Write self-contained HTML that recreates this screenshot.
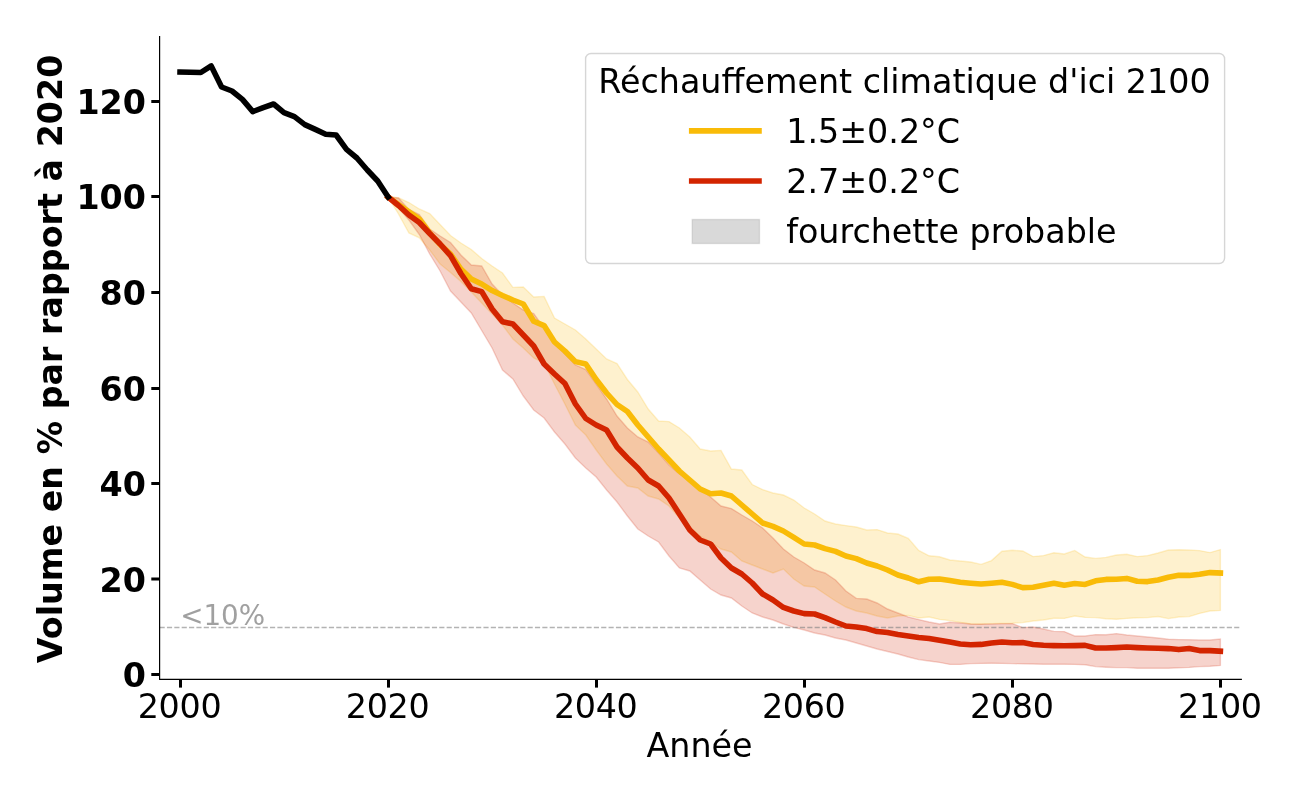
<!DOCTYPE html>
<html lang="fr"><head><meta charset="utf-8"><title>Volume en % par rapport à 2020</title>
<style>html,body{margin:0;padding:0;background:#fff}body{width:1300px;height:800px;overflow:hidden}svg{display:block}text{font-family:"DejaVu Sans","Liberation Sans",sans-serif;}</style></head><body>
<svg width="1300" height="800" viewBox="0 0 1300 800">
<rect width="1300" height="800" fill="#fff"/>
<polygon points="388.1,197.0 398.5,197.8 408.9,202.5 419.3,209.0 429.7,213.5 440.1,224.5 450.5,235.5 460.9,243.0 471.3,249.5 481.7,258.5 492.1,266.0 502.5,273.0 512.9,287.4 523.3,287.0 533.7,297.0 544.1,296.4 554.5,318.0 564.9,324.0 575.4,330.0 585.8,339.0 596.2,349.0 606.6,359.0 617.0,363.6 627.4,379.5 637.8,392.0 648.2,409.0 658.6,421.0 669.0,421.6 679.4,428.0 689.8,437.0 700.2,449.0 710.6,451.0 721.0,450.4 731.4,469.0 741.8,470.0 752.2,484.5 762.6,489.6 773.0,493.0 783.4,495.0 793.8,500.0 804.2,508.0 814.6,514.0 825.0,521.0 835.5,524.0 845.9,525.6 856.3,527.0 866.7,530.0 877.1,529.6 887.5,533.0 897.9,534.0 908.3,538.4 918.7,550.4 929.1,555.8 939.5,556.8 949.9,560.0 960.3,561.0 970.7,562.0 981.1,564.4 991.5,560.6 1001.9,551.2 1012.3,550.2 1022.7,551.0 1033.1,556.6 1043.5,555.6 1053.9,552.8 1064.3,554.0 1074.7,550.4 1085.1,557.0 1095.6,558.4 1106.0,557.4 1116.4,555.0 1126.8,554.2 1137.2,556.6 1147.6,555.6 1158.0,553.0 1168.4,550.0 1178.8,549.8 1189.2,550.0 1199.6,550.6 1210.0,552.6 1220.4,549.6 1220.4,610.4 1210.0,611.0 1199.6,613.4 1189.2,616.6 1178.8,617.0 1168.4,618.6 1158.0,616.5 1147.6,617.6 1137.2,617.8 1126.8,618.4 1116.4,619.2 1106.0,618.8 1095.6,617.6 1085.1,617.4 1074.7,616.0 1064.3,618.4 1053.9,618.2 1043.5,620.0 1033.1,621.0 1022.7,622.6 1012.3,623.2 1001.9,623.4 991.5,623.6 981.1,624.2 970.7,624.0 960.3,622.4 949.9,620.6 939.5,619.4 929.1,617.0 918.7,618.0 908.3,615.4 897.9,616.0 887.5,618.0 877.1,616.0 866.7,613.0 856.3,611.0 845.9,607.0 835.5,601.0 825.0,594.0 814.6,587.0 804.2,586.0 793.8,579.0 783.4,569.0 773.0,573.0 762.6,569.0 752.2,565.0 741.8,561.0 731.4,552.0 721.0,549.0 710.6,542.0 700.2,536.0 689.8,528.0 679.4,518.0 669.0,506.0 658.6,499.0 648.2,496.0 637.8,488.0 627.4,486.0 617.0,476.0 606.6,464.0 596.2,450.0 585.8,435.0 575.4,425.0 564.9,404.0 554.5,384.0 544.1,363.0 533.7,358.0 523.3,348.0 512.9,339.0 502.5,325.0 492.1,314.0 481.7,303.0 471.3,292.0 460.9,281.5 450.5,272.5 440.1,264.0 429.7,250.0 419.3,237.8 408.9,233.0 398.5,214.0 388.1,197.0" fill="#f9bb08" fill-opacity="0.2" stroke="#f9bb08" stroke-opacity="0.2" stroke-width="1.39" stroke-linejoin="miter"/>
<polygon points="388.1,197.0 398.5,198.0 408.9,209.5 419.3,214.5 429.7,229.0 440.1,236.0 450.5,242.5 460.9,255.0 471.3,265.0 481.7,266.0 492.1,284.0 502.5,295.0 512.9,303.0 523.3,310.0 533.7,313.6 544.1,328.0 554.5,344.0 564.9,354.0 575.4,365.0 585.8,369.5 596.2,384.0 606.6,399.0 617.0,416.0 627.4,428.0 637.8,437.0 648.2,442.0 658.6,453.0 669.0,465.0 679.4,474.0 689.8,480.0 700.2,489.0 710.6,497.0 721.0,506.0 731.4,508.6 741.8,515.0 752.2,521.0 762.6,528.0 773.0,538.0 783.4,549.0 793.8,557.0 804.2,563.0 814.6,570.0 825.0,573.0 835.5,580.0 845.9,591.0 856.3,598.4 866.7,599.0 877.1,603.0 887.5,609.0 897.9,613.0 908.3,617.0 918.7,619.6 929.1,622.0 939.5,624.0 949.9,622.2 960.3,623.0 970.7,624.0 981.1,624.2 991.5,624.0 1001.9,623.8 1012.3,623.6 1022.7,627.6 1033.1,627.0 1043.5,629.0 1053.9,631.4 1064.3,631.6 1074.7,636.0 1085.1,636.0 1095.6,634.6 1106.0,634.8 1116.4,633.6 1126.8,635.0 1137.2,636.0 1147.6,637.0 1158.0,638.0 1168.4,639.2 1178.8,639.6 1189.2,639.8 1199.6,640.0 1210.0,640.0 1220.4,639.0 1220.4,665.4 1210.0,666.2 1199.6,666.6 1189.2,667.4 1178.8,667.8 1168.4,668.2 1158.0,668.2 1147.6,668.2 1137.2,668.2 1126.8,667.6 1116.4,667.6 1106.0,667.2 1095.6,666.6 1085.1,664.8 1074.7,664.4 1064.3,664.2 1053.9,664.2 1043.5,664.2 1033.1,664.0 1022.7,663.8 1012.3,663.6 1001.9,663.4 991.5,663.2 981.1,663.4 970.7,663.6 960.3,664.4 949.9,664.4 939.5,662.4 929.1,661.0 918.7,659.6 908.3,657.0 897.9,654.0 887.5,651.5 877.1,649.0 866.7,646.0 856.3,643.0 845.9,640.0 835.5,638.0 825.0,635.0 814.6,633.0 804.2,630.0 793.8,627.4 783.4,624.0 773.0,620.0 762.6,617.0 752.2,613.0 741.8,606.0 731.4,598.0 721.0,595.0 710.6,589.0 700.2,580.0 689.8,571.0 679.4,568.0 669.0,556.0 658.6,542.0 648.2,536.0 637.8,529.0 627.4,516.0 617.0,502.0 606.6,490.0 596.2,477.0 585.8,468.0 575.4,458.0 564.9,444.0 554.5,432.0 544.1,418.0 533.7,410.0 523.3,396.0 512.9,379.0 502.5,370.0 492.1,348.0 481.7,330.5 471.3,313.0 460.9,302.0 450.5,291.0 440.1,271.0 429.7,254.0 419.3,234.5 408.9,220.0 398.5,208.0 388.1,197.0" fill="#d32400" fill-opacity="0.2" stroke="#d32400" stroke-opacity="0.2" stroke-width="1.39" stroke-linejoin="miter"/>
<line x1="159.6" x2="1239.4" y1="627.5" y2="627.5" stroke="#808080" stroke-opacity="0.6" stroke-width="1.5" stroke-dasharray="5.14 2.22"/>
<text x="180.2" y="625" font-size="27.78" fill="#a0a0a0">&lt;10%</text>
<polyline points="388.1,197.0 398.5,204.4 408.9,211.7 419.3,219.0 429.7,233.0 440.1,244.5 450.5,254.0 460.9,269.0 471.3,279.0 481.7,284.0 492.1,290.6 502.5,295.5 512.9,300.0 523.3,304.0 533.7,321.3 544.1,325.6 554.5,342.0 564.9,351.0 575.4,361.6 585.8,364.0 596.2,379.5 606.6,393.0 617.0,404.5 627.4,411.5 637.8,425.0 648.2,437.0 658.6,449.0 669.0,460.0 679.4,471.0 689.8,480.0 700.2,489.0 710.6,493.8 721.0,493.0 731.4,496.0 741.8,505.0 752.2,514.0 762.6,523.0 773.0,526.4 783.4,531.0 793.8,537.4 804.2,544.0 814.6,545.0 825.0,548.6 835.5,551.4 845.9,556.0 856.3,558.6 866.7,563.0 877.1,566.0 887.5,570.0 897.9,575.0 908.3,578.0 918.7,581.8 929.1,579.2 939.5,579.0 949.9,580.6 960.3,582.2 970.7,583.2 981.1,584.0 991.5,583.2 1001.9,582.2 1012.3,584.4 1022.7,587.6 1033.1,587.2 1043.5,585.2 1053.9,583.2 1064.3,585.2 1074.7,583.6 1085.1,584.4 1095.6,580.8 1106.0,579.4 1116.4,579.2 1126.8,578.4 1137.2,581.2 1147.6,581.6 1158.0,580.0 1168.4,577.2 1178.8,575.2 1189.2,575.4 1199.6,574.2 1210.0,572.6 1220.4,573.0" fill="none" stroke="#f9bb08" stroke-width="5.56" stroke-linecap="square" stroke-linejoin="round"/>
<polyline points="388.1,197.0 398.5,205.5 408.9,215.0 419.3,222.5 429.7,233.5 440.1,244.0 450.5,255.7 460.9,273.5 471.3,288.8 481.7,291.6 492.1,309.0 502.5,321.8 512.9,324.0 523.3,335.0 533.7,346.0 544.1,364.0 554.5,374.0 564.9,383.5 575.4,404.0 585.8,418.5 596.2,425.0 606.6,430.0 617.0,447.0 627.4,458.0 637.8,468.0 648.2,480.0 658.6,486.0 669.0,498.0 679.4,514.0 689.8,530.0 700.2,540.0 710.6,544.0 721.0,558.0 731.4,568.0 741.8,574.0 752.2,583.0 762.6,594.0 773.0,600.0 783.4,607.4 793.8,611.0 804.2,613.6 814.6,614.0 825.0,617.6 835.5,622.0 845.9,626.0 856.3,627.0 866.7,628.6 877.1,631.6 887.5,632.4 897.9,634.4 908.3,636.0 918.7,637.4 929.1,638.4 939.5,640.2 949.9,642.0 960.3,644.0 970.7,644.8 981.1,644.4 991.5,643.0 1001.9,642.0 1012.3,642.8 1022.7,642.6 1033.1,644.4 1043.5,645.2 1053.9,645.6 1064.3,645.8 1074.7,645.6 1085.1,645.4 1095.6,648.0 1106.0,648.0 1116.4,647.6 1126.8,647.0 1137.2,647.6 1147.6,648.0 1158.0,648.2 1168.4,648.6 1178.8,649.6 1189.2,648.6 1199.6,650.6 1210.0,650.6 1220.4,651.2" fill="none" stroke="#d32400" stroke-width="5.56" stroke-linecap="square" stroke-linejoin="round"/>
<polyline points="180.0,72.0 190.4,72.2 200.8,72.5 211.2,65.9 221.6,87.0 232.0,91.0 242.4,99.4 252.8,111.6 263.2,107.6 273.6,104.0 284.0,112.6 294.4,116.6 304.8,124.6 315.3,129.4 325.7,134.2 336.1,135.0 346.5,149.4 356.9,158.0 367.3,170.0 377.7,181.0 388.1,197.0" fill="none" stroke="#000" stroke-width="5.56" stroke-linecap="square" stroke-linejoin="round"/>
<path d="M159.6 36.6V679.4H1241.3" fill="none" stroke="#000" stroke-width="1.2" stroke-linecap="square"/>
<rect x="151.3" y="673.0" width="8.3" height="3" fill="#000"/>
<text x="146.0" y="687.3" font-size="33.33" font-weight="bold" text-anchor="end">0</text>
<rect x="151.3" y="577.5" width="8.3" height="3" fill="#000"/>
<text x="146.0" y="591.7" font-size="33.33" font-weight="bold" text-anchor="end">20</text>
<rect x="151.3" y="482.0" width="8.3" height="3" fill="#000"/>
<text x="146.0" y="496.1" font-size="33.33" font-weight="bold" text-anchor="end">40</text>
<rect x="151.3" y="387.0" width="8.3" height="3" fill="#000"/>
<text x="146.0" y="400.6" font-size="33.33" font-weight="bold" text-anchor="end">60</text>
<rect x="151.3" y="291.0" width="8.3" height="3" fill="#000"/>
<text x="146.0" y="305.0" font-size="33.33" font-weight="bold" text-anchor="end">80</text>
<rect x="151.3" y="195.0" width="8.3" height="3" fill="#000"/>
<text x="146.0" y="209.4" font-size="33.33" font-weight="bold" text-anchor="end">100</text>
<rect x="151.3" y="100.0" width="8.3" height="3" fill="#000"/>
<text x="146.0" y="113.8" font-size="33.33" font-weight="bold" text-anchor="end">120</text>
<rect x="179.0" y="679.4" width="3" height="8.2" fill="#000"/>
<text x="179.5" y="718.1" font-size="33.33" text-anchor="middle" letter-spacing="-0.3">2000</text>
<rect x="387.0" y="679.4" width="3" height="8.2" fill="#000"/>
<text x="387.6" y="718.1" font-size="33.33" text-anchor="middle" letter-spacing="-0.3">2020</text>
<rect x="595.0" y="679.4" width="3" height="8.2" fill="#000"/>
<text x="595.7" y="718.1" font-size="33.33" text-anchor="middle" letter-spacing="-0.3">2040</text>
<rect x="803.0" y="679.4" width="3" height="8.2" fill="#000"/>
<text x="803.7" y="718.1" font-size="33.33" text-anchor="middle" letter-spacing="-0.3">2060</text>
<rect x="1011.0" y="679.4" width="3" height="8.2" fill="#000"/>
<text x="1011.8" y="718.1" font-size="33.33" text-anchor="middle" letter-spacing="-0.3">2080</text>
<rect x="1219.0" y="679.4" width="3" height="8.2" fill="#000"/>
<text x="1219.9" y="718.1" font-size="33.33" text-anchor="middle" letter-spacing="-0.3">2100</text>
<text x="699.5" y="756.9" font-size="33.33" text-anchor="middle">Année</text>
<text transform="translate(62.0 358.9) rotate(-90)" font-size="33.33" font-weight="bold" text-anchor="middle">Volume en % par rapport à 2020</text>
<rect x="585.6" y="53.5" width="639" height="210" rx="5.5" ry="5.5" fill="#fff" fill-opacity="0.8" stroke="#cccccc" stroke-opacity="0.8" stroke-width="1.4"/>
<text x="598.3" y="92.5" font-size="33.33">Réchauffement climatique d'ici 2100</text>
<line x1="691.7" x2="759" y1="130.9" y2="130.9" stroke="#f9bb08" stroke-width="5.56" stroke-linecap="square"/>
<line x1="691.7" x2="759" y1="181" y2="181" stroke="#d32400" stroke-width="5.56" stroke-linecap="square"/>
<rect x="692.2" y="219.5" width="67.3" height="24" fill="#808080" fill-opacity="0.3" stroke="#808080" stroke-opacity="0.22" stroke-width="1.39"/>
<text x="786.2" y="142.5" font-size="33.33">1.5±0.2°C</text>
<text x="786.2" y="192.6" font-size="33.33">2.7±0.2°C</text>
<text x="786.2" y="242.7" font-size="33.33">fourchette probable</text>
</svg></body></html>
